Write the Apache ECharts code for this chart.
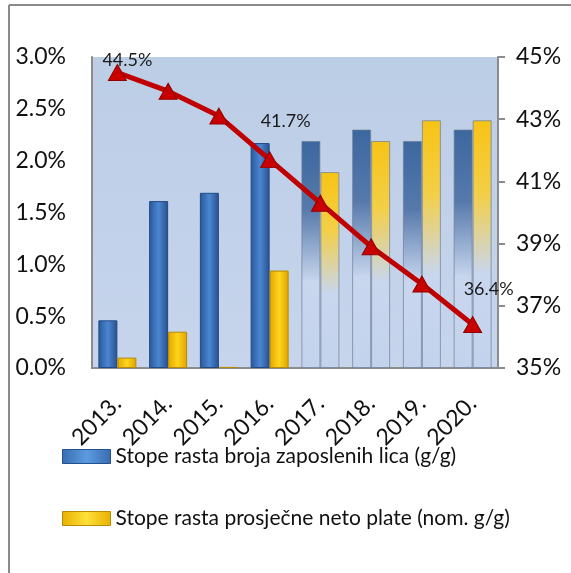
<!DOCTYPE html>
<html>
<head>
<meta charset="utf-8">
<script src="https://cdn.jsdelivr.net/npm/echarts@6/dist/echarts.min.js"></script>
<style>
  html, body { margin: 0; padding: 0; background: #fff; }
  #main { width: 571px; height: 573px; }
</style>
</head>
<body>
<div id="main"></div>
<script>
// podaci
var years = ['2013.', '2014.', '2015.', '2016.', '2017.', '2018.', '2019.', '2020.'];
var employment = [0.46, 1.61, 1.69, 2.17, 2.19, 2.30, 2.19, 2.30];
var wages = [0.10, 0.35, 0.01, 0.94, 1.89, 2.19, 2.39, 2.39];
var share = [44.5, 43.9, 43.1, 41.7, 40.3, 38.9, 37.7, 36.4];
var leftTicks = [0, 3, 0.5];
var rightTicks = [35, 45, 2];
var firstForecast = 4;
var names = ['Stope rasta broja zaposlenih lica (g/g)', 'Stope rasta prosječne neto plate (nom. g/g)'];

var FONT = 'Lato';
var myChart = echarts.init(document.getElementById('main'));

function hGrad(a, b, c) {
  return new echarts.graphic.LinearGradient(0, 0, 1, 0, [
    { offset: 0, color: a }, { offset: 0.5, color: b }, { offset: 1, color: c }
  ]);
}
function fade(top, mid) {
  return new echarts.graphic.LinearGradient(0, 0, 0, 1, [
    { offset: 0, color: top }, { offset: 0.3, color: mid },
    { offset: 0.62, color: '#c8d6ee' }, { offset: 1, color: '#c4d3ed' }
  ]);
}

var blueSolid = hGrad('#2b5797', '#4a86d2', '#29508c');
var yellowSolid = hGrad('#e3a600', '#ffd41c', '#dea300');

function barData(vals, solid, top, mid, border) {
  return vals.map(function (v, i) {
    if (i < firstForecast) {
      return { value: v, itemStyle: { color: solid, borderColor: border, borderWidth: 1 } };
    }
    return { value: v, itemStyle: { color: fade(top, mid), borderColor: 'rgba(110,125,150,0.7)', borderWidth: 1 } };
  });
}

// oznake na liniji samo za pojedine godine
var labelPos = { 0: [10, 10], 3: [16, -16], 7: [16, -13] };
var lineData = share.map(function (v, i) {
  var d = { value: v };
  if (labelPos[i]) {
    d.label = { show: true, position: 'top', offset: labelPos[i] };
  }
  return d;
});

var option = {
  animation: false,
  textStyle: { fontFamily: FONT },
  graphic: [
    { type: 'line', shape: { x1: 9, y1: 5, x2: 9, y2: 573 }, style: { stroke: '#8a8a8a', lineWidth: 2 } },
    { type: 'line', shape: { x1: 9, y1: 5, x2: 571, y2: 5 }, style: { stroke: '#8a8a8a', lineWidth: 2 } }
  ],
  legend: {
    orient: 'vertical',
    left: 62,
    top: 446,
    padding: 0,
    icon: 'rect',
    itemWidth: 48,
    itemHeight: 14,
    itemGap: 41,
    textStyle: { fontFamily: FONT, fontSize: 21, color: '#111' },
    data: [
      { name: names[0], itemStyle: { color: hGrad('#3a6cb0', '#5b9be0', '#3a6cb0'), borderColor: '#24508c', borderWidth: 1 } },
      { name: names[1], itemStyle: { color: hGrad('#e8b000', '#ffe03a', '#e8b000'), borderColor: '#b88a00', borderWidth: 1 } }
    ]
  },
  grid: {
    left: 92, right: 73, top: 57, bottom: 205,
    show: true,
    borderWidth: 0,
    backgroundColor: new echarts.graphic.LinearGradient(0, 0, 0, 1, [
      { offset: 0, color: '#bccde6' }, { offset: 1, color: '#c6d5ec' }
    ])
  },
  xAxis: {
    type: 'category',
    data: years,
    axisLine: { lineStyle: { color: '#8c8c8c', width: 2 } },
    axisTick: { show: false },
    axisLabel: { rotate: 45, fontSize: 23, color: '#111', margin: 32, fontFamily: FONT }
  },
  yAxis: [
    {
      type: 'value',
      min: leftTicks[0], max: leftTicks[1], interval: leftTicks[2],
      splitLine: { show: false },
      axisLine: { show: true, lineStyle: { color: '#8c8c8c', width: 2 } },
      axisTick: { show: false },
      axisLabel: {
        fontSize: 23, color: '#111', margin: 26, fontFamily: FONT,
        formatter: function (v) { return v.toFixed(1) + '%'; }
      }
    },
    {
      type: 'value',
      position: 'right',
      min: rightTicks[0], max: rightTicks[1], interval: rightTicks[2],
      splitLine: { show: false },
      axisLine: { show: true, lineStyle: { color: '#8c8c8c', width: 2 } },
      axisTick: { show: true, inside: false, length: 7, lineStyle: { color: '#8c8c8c', width: 2 } },
      axisLabel: {
        fontSize: 23, color: '#111', margin: 18, fontFamily: FONT,
        formatter: function (v) { return v + '%'; }
      }
    }
  ],
  series: [
    {
      name: names[0],
      type: 'bar',
      barWidth: 19,
      barGap: '0%',
      data: barData(employment, blueSolid, '#3c679f', '#5679ab', '#1f4a85')
    },
    {
      name: names[1],
      type: 'bar',
      barWidth: 19,
      barGap: '0%',
      data: barData(wages, yellowSolid, '#f7c316', '#f3cf48', '#b78a00')
    },
    {
      name: 'udio',
      type: 'line',
      yAxisIndex: 1,
      symbol: 'triangle',
      symbolSize: [18, 16],
      lineStyle: { color: '#c00000', width: 5 },
      itemStyle: { color: '#c80000', borderColor: '#900000', borderWidth: 1 },
      label: {
        show: false,
        fontSize: 18, color: '#1a1a1a', fontFamily: FONT,
        formatter: function (p) { return p.value.toFixed(1) + '%'; }
      },
      z: 5,
      data: lineData
    }
  ]
};

myChart.setOption(option);
</script>
</body>
</html>
